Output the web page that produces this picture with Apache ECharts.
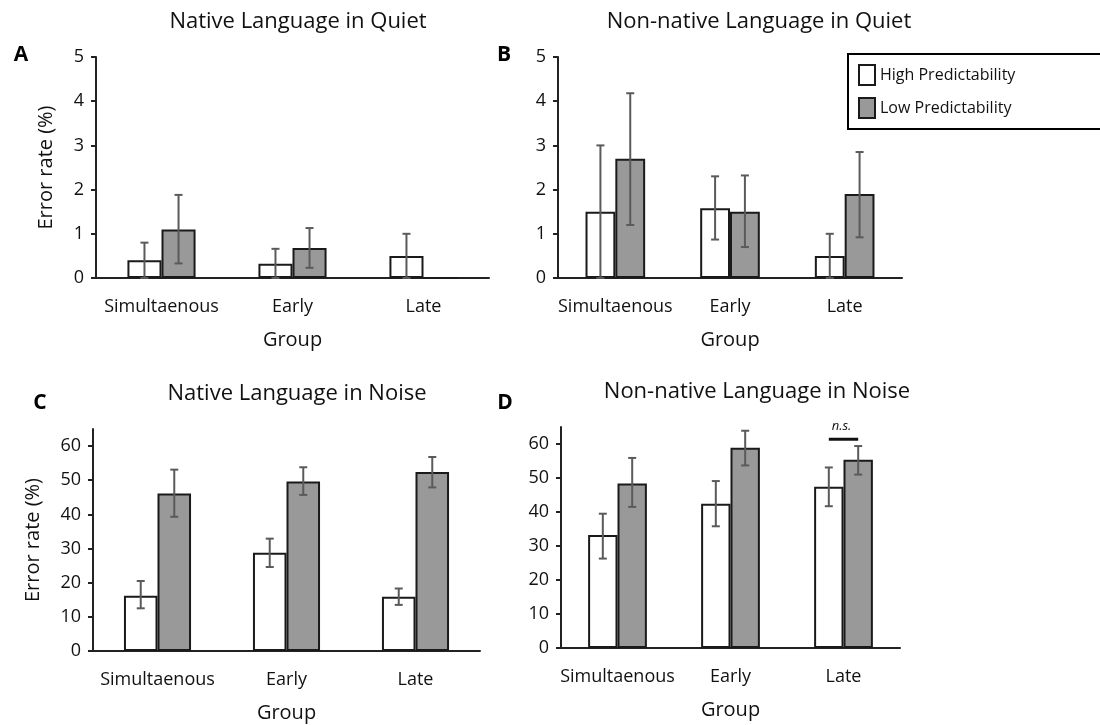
<!DOCTYPE html>
<html><head><meta charset="utf-8">
<script src="https://cdn.jsdelivr.net/npm/echarts@6/dist/echarts.min.js"></script>
<style>html,body{margin:0;padding:0;background:#fff}#c{width:1100px;height:725px}</style>
</head><body><div id="c"></div>
<script>
const categories = ['Simultaenous', 'Early', 'Late'];
const seriesNames = ['High Predictability', 'Low Predictability'];
const quietTicks = [0, 1, 2, 3, 4, 5];
const noiseTicks = [0, 10, 20, 30, 40, 50, 60];
const panelTitles = ['Native Language in Quiet', 'Non-native Language in Quiet', 'Native Language in Noise', 'Non-native Language in Noise'];
const panelLetters = ['A', 'B', 'C', 'D'];

// Panel A: Native Language in Quiet
const aHigh = [0.4, 0.32, 0.5];
const aHighErrLow = [0, 0, 0];
const aHighErrHigh = [0.8, 0.66, 1.0];
const aLow = [1.1, 0.68, 0];
const aLowErrLow = [0.33, 0.23, null];
const aLowErrHigh = [1.88, 1.13, null];

// Panel B: Non-native Language in Quiet
const bHigh = [1.5, 1.58, 0.5];
const bHighErrLow = [0, 0.87, 0];
const bHighErrHigh = [3.0, 2.3, 1.0];
const bLow = [2.7, 1.5, 1.9];
const bLowErrLow = [1.2, 0.7, 0.92];
const bLowErrHigh = [4.18, 2.32, 2.85];

// Panel C: Native Language in Noise
const cHigh = [16.2, 28.8, 15.9];
const cHighErrLow = [12.5, 24.6, 13.5];
const cHighErrHigh = [20.5, 32.9, 18.3];
const cLow = [46.1, 49.6, 52.4];
const cLowErrLow = [39.3, 45.7, 47.9];
const cLowErrHigh = [53.1, 53.8, 56.8];

// Panel D: Non-native Language in Noise
const dHigh = [33.2, 42.4, 47.4];
const dHighErrLow = [26.3, 35.8, 41.7];
const dHighErrHigh = [39.5, 49.1, 53.1];
const dLow = [48.4, 58.9, 55.4];
const dLowErrLow = [41.5, 53.7, 51.0];
const dLowErrHigh = [55.9, 63.9, 59.4];

// n.s. annotation in panel D
const nsCategory = 2;
const nsValue = 61.4;
const nsLabel = 'n.s.';

const FONT = 'Open Sans';
const GAP = 0.48;
const ERR_COLOR = '#5a5a5a';
const BORDER = '#1a1a1a';

const panels = [
  {high: aHigh, low: aLow, hl: aHighErrLow, hh: aHighErrHigh, ll: aLowErrLow, lh: aLowErrHigh},
  {high: bHigh, low: bLow, hl: bHighErrLow, hh: bHighErrHigh, ll: bLowErrLow, lh: bLowErrHigh},
  {high: cHigh, low: cLow, hl: cHighErrLow, hh: cHighErrHigh, ll: cLowErrLow, lh: cLowErrHigh},
  {high: dHigh, low: dLow, hl: dHighErrLow, hh: dHighErrHigh, ll: dLowErrLow, lh: dLowErrHigh}
];

const grids = [
  {left: 96, top: 57, width: 393, height: 221, outerBoundsMode: 'none'},
  {left: 558, top: 57, width: 344, height: 221, outerBoundsMode: 'none'},
  {left: 93, top: 429, width: 387, height: 222, outerBoundsMode: 'none'},
  {left: 561, top: 427, width: 339, height: 221, outerBoundsMode: 'none'}
];

const xAxes = grids.map((g, i) => ({
  type: 'category', gridIndex: i, data: categories,
  axisLine: {lineStyle: {color: '#222', width: 2}},
  axisTick: {show: false},
  axisLabel: {fontFamily: FONT, fontSize: 18, color: '#111', margin: 20, interval: 0},
  name: 'Group', nameLocation: 'middle', nameGap: 52,
  nameTextStyle: {fontFamily: FONT, fontSize: 20, color: '#111'}
}));

const yAxes = grids.map((g, i) => {
  const quiet = i < 2;
  const ticks = quiet ? quietTicks : noiseTicks;
  const ax = {
    type: 'value', gridIndex: i, min: 0, max: quiet ? 5 : 65,
    interval: quiet ? 1 : 10,
    splitLine: {show: false},
    axisLine: {show: true, lineStyle: {color: '#222', width: 2}},
    axisTick: {show: true, length: 5, lineStyle: {color: '#222', width: 2}, customValues: ticks},
    axisLabel: {fontFamily: FONT, fontSize: 18, color: '#111', margin: 12, customValues: ticks}
  };
  if (i === 0) { ax.name = 'Error rate (%)'; ax.nameGap = 40; }
  if (i === 2) { ax.name = 'Error rate (%)'; ax.nameGap = 50; }
  if (ax.name) {
    ax.nameLocation = 'middle';
    ax.nameTextStyle = {fontFamily: FONT, fontSize: 20, color: '#111'};
  }
  return ax;
});

function errRender(params, api) {
  const i = api.value(0), lo = api.value(1), hi = api.value(2), side = api.value(3);
  const bw = api.size([1, 0])[0];
  const barW = bw * (1 - GAP) / 2;
  const p1 = api.coord([i, lo]);
  const p2 = api.coord([i, hi]);
  const x = p1[0] + (side ? 1 : -1) * barW / 2;
  const cap = 4;
  const st = {stroke: ERR_COLOR, lineWidth: 2};
  return {type: 'group', children: [
    {type: 'line', shape: {x1: x, y1: p1[1], x2: x, y2: p2[1]}, style: st},
    {type: 'line', shape: {x1: x - cap, y1: p2[1], x2: x + cap, y2: p2[1]}, style: st},
    {type: 'line', shape: {x1: x - cap, y1: p1[1], x2: x + cap, y2: p1[1]}, style: st}
  ]};
}

function nsRender(params, api) {
  const i = api.value(0), v = api.value(1);
  const bw = api.size([1, 0])[0];
  const barW = bw * (1 - GAP) / 2;
  const p = api.coord([i, v]);
  return {type: 'group', children: [
    {type: 'line', shape: {x1: p[0] - barW / 2, y1: p[1], x2: p[0] + barW / 2, y2: p[1]}, style: {stroke: '#111', lineWidth: 3}},
    {type: 'text', x: p[0] - 2, y: p[1] - 13, style: {text: nsLabel, fontFamily: FONT, fontSize: 13, fontStyle: 'italic', fill: '#111', align: 'center', verticalAlign: 'middle'}}
  ]};
}

const series = [];
panels.forEach((p, i) => {
  series.push({
    name: seriesNames[0], type: 'bar', xAxisIndex: i, yAxisIndex: i, data: p.high,
    barGap: '0%', barCategoryGap: (GAP * 100) + '%',
    itemStyle: {color: '#ffffff', borderColor: BORDER, borderWidth: 2}, silent: true
  });
  series.push({
    name: seriesNames[1], type: 'bar', xAxisIndex: i, yAxisIndex: i, data: p.low,
    barGap: '0%', barCategoryGap: (GAP * 100) + '%',
    itemStyle: {color: '#999999', borderColor: BORDER, borderWidth: 2}, silent: true
  });
  const err = [];
  categories.forEach((c, k) => {
    if (p.hl[k] !== null && p.hh[k] !== null) err.push([k, p.hl[k], p.hh[k], 0]);
    if (p.ll[k] !== null && p.lh[k] !== null) err.push([k, p.ll[k], p.lh[k], 1]);
  });
  series.push({
    type: 'custom', xAxisIndex: i, yAxisIndex: i, data: err, renderItem: errRender,
    encode: {x: 0, y: [1, 2]}, z: 5, silent: true
  });
});
series.push({
  type: 'custom', xAxisIndex: 3, yAxisIndex: 3, data: [[nsCategory, nsValue]], renderItem: nsRender,
  encode: {x: 0, y: 1}, z: 6, silent: true, clip: false
});

const titlePos = [[298, 22], [759, 22], [297, 394], [757, 392]];
const letterPos = [[21, 55], [504, 55], [40, 403], [505, 403]];
const graphic = [];
panelTitles.forEach((t, i) => {
  graphic.push({type: 'text', x: titlePos[i][0], y: titlePos[i][1],
    style: {text: t, fontFamily: FONT, fontSize: 22, fill: '#111', align: 'center', verticalAlign: 'middle'}});
  graphic.push({type: 'text', x: letterPos[i][0], y: letterPos[i][1],
    style: {text: panelLetters[i], fontFamily: FONT, fontSize: 21, fontWeight: 'bold', fill: '#000', align: 'center', verticalAlign: 'middle'}});
});

const chart = echarts.init(document.getElementById('c'), null, {renderer: 'canvas'});
chart.setOption({
  backgroundColor: '#ffffff',
  animation: false,
  grid: grids,
  xAxis: xAxes,
  yAxis: yAxes,
  legend: {
    data: seriesNames, orient: 'vertical', left: 848, top: 54,
    icon: 'rect', itemWidth: 16, itemHeight: 20, itemGap: 11,
    padding: [10, 200, 10, 10],
    borderColor: '#000', borderWidth: 2, backgroundColor: '#fff',
    textStyle: {fontFamily: FONT, fontSize: 16, color: '#111'},
    selectedMode: false
  },
  graphic: graphic,
  series: series
});
</script></body></html>
